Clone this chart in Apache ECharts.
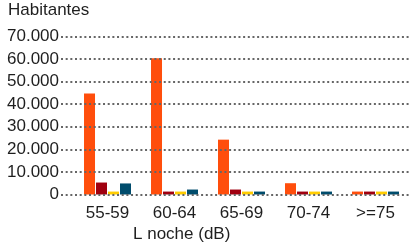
<!DOCTYPE html>
<html lang="es">
  <head>
    <meta charset="UTF-8" />
    <title>Habitantes por nivel L noche</title>
    <style>
      html,
      body {
        margin: 0;
        padding: 0;
        background: #fff;
      }
      #chart {
        width: 409px;
        height: 247px;
      }
    </style>
  </head>
  <body>
    <div id="chart"></div>
    <script src="https://cdn.jsdelivr.net/npm/echarts@6/dist/echarts.min.js"></script>
    <script>
      // datos
      const categorias = ["55-59", "60-64", "65-69", "70-74", ">=75"];
      const serie1 = [44800, 60400, 24300, 5000, 1300];
      const serie2 = [5300, 1300, 2200, 1300, 1300];
      const serie3 = [1300, 1300, 1300, 1300, 1300];
      const serie4 = [4900, 2200, 1300, 1300, 1300];
      const yMin = 0;
      const yMax = 70000;
      const yPaso = 10000;

      const colores = ["#ff4e0c", "#a00010", "#ffcc00", "#004c6c"];
      const fuente = "Liberation Sans";
      const texto = "#1e1e1e";

      const miles = (v) => String(v).replace(/\B(?=(\d{3})+(?!\d))/g, ".");

      const chart = echarts.init(document.getElementById("chart"));
      const option = {
        animation: false,
        textStyle: { fontFamily: fuente },
        grid: [
          { left: 61, right: 0, top: 36.5, bottom: 52.5 },
          { left: 74, right: -8.5, top: 36.5, bottom: 52.5 },
        ],
        graphic: [
          {
            type: "text",
            left: 8,
            top: 2,
            style: { text: "Habitantes", font: "17px " + fuente, fill: texto },
          },
          {
            type: "text",
            left: 133,
            top: 226,
            style: { text: "L noche (dB)", font: "17px " + fuente, fill: texto },
          },
        ],
        xAxis: [
          { gridIndex: 0, type: "value", show: false },
          {
            gridIndex: 1,
            type: "category",
            data: categorias,
            axisLine: { show: false },
            axisTick: { show: false },
            axisLabel: {
              interval: 0,
              margin: 10,
              fontSize: 17,
              color: texto,
            },
          },
        ],
        yAxis: [
          {
            gridIndex: 0,
            type: "value",
            min: yMin,
            max: yMax,
            interval: yPaso,
            z: 5,
            axisLine: { show: false },
            axisTick: { show: false },
            axisLabel: {
              margin: 2,
              fontSize: 17,
              color: texto,
              formatter: miles,
            },
            splitLine: {
              lineStyle: { color: "#666", width: 2, type: [2, 2.67] },
            },
          },
          {
            gridIndex: 1,
            type: "value",
            min: yMin,
            max: yMax,
            show: false,
            splitLine: { show: false },
          },
        ],
        series: [serie1, serie2, serie3, serie4].map((d, i) => ({
          name: "Serie " + (i + 1),
          type: "bar",
          xAxisIndex: 1,
          yAxisIndex: 1,
          data: d,
          barWidth: 11,
          barGap: "9%",
          itemStyle: { color: colores[i] },
        })),
      };
      chart.setOption(option);
    </script>
  </body>
</html>
